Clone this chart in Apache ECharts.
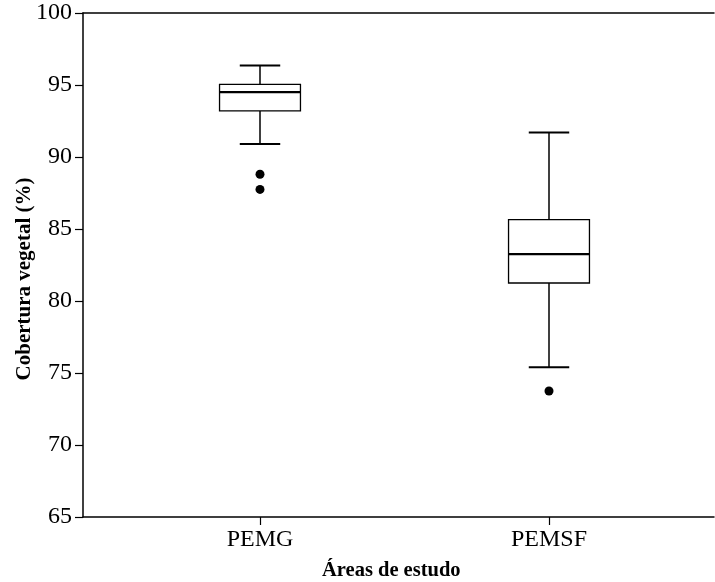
<!DOCTYPE html>
<html>
<head>
<meta charset="utf-8">
<script src="https://cdn.jsdelivr.net/npm/echarts@6/dist/echarts.min.js"></script>
<style>html,body{margin:0;padding:0;background:#fff}#c{width:715px;height:582px}</style>
</head>
<body>
<div id="c"></div>
<script>
const categories = ['PEMG', 'PEMSF'];
// [lower whisker, Q1, median, Q3, upper whisker]
const boxStats = [
  [90.9, 93.2, 94.5, 95.05, 96.35],
  [75.4, 81.25, 83.25, 85.65, 91.7]
];
const outliers = [
  ['PEMG', 88.8],
  ['PEMG', 87.75],
  ['PEMSF', 73.75]
];
const yTicks = { min: 65, max: 100, interval: 5 };
const yTitle = 'Cobertura vegetal (%)';
const xTitle = 'Áreas de estudo';

const FONT = 'Liberation Serif';
const chart = echarts.init(document.getElementById('c'), null, { renderer: 'canvas' });

const boxData = boxStats.map((s, i) => [i].concat(s));

chart.setOption({
  animation: false,
  backgroundColor: '#fff',
  grid: [
    { left: 83, right: 1, top: 13, bottom: 65 },
    { left: 115.5, right: 21.5, top: 13, bottom: 65 }
  ],
  xAxis: [
    { gridIndex: 0, type: 'value', min: 0, max: 1, position: 'bottom',
      axisLine: { show: true, lineStyle: { color: '#000', width: 1.5 } },
      axisTick: { show: false }, axisLabel: { show: false }, splitLine: { show: false } },
    { gridIndex: 0, type: 'value', min: 0, max: 1, position: 'top',
      axisLine: { show: true, lineStyle: { color: '#000', width: 1.5 } },
      axisTick: { show: false }, axisLabel: { show: false }, splitLine: { show: false } },
    { gridIndex: 1, type: 'category', data: categories, position: 'bottom',
      axisLine: { show: false },
      axisTick: { show: true, alignWithLabel: true, length: 8, lineStyle: { color: '#000', width: 1.2 } },
      axisLabel: { show: true, margin: 11, fontFamily: FONT, fontSize: 24, color: '#000' },
      splitLine: { show: false } }
  ],
  yAxis: [
    { gridIndex: 0, type: 'value', min: yTicks.min, max: yTicks.max, interval: yTicks.interval,
      axisLine: { show: true, lineStyle: { color: '#000', width: 1.5 } },
      axisTick: { show: true, length: 8, lineStyle: { color: '#000', width: 1.2 } },
      axisLabel: { margin: 11, fontFamily: FONT, fontSize: 24, color: '#000' },
      splitLine: { show: false } },
    { gridIndex: 1, type: 'value', min: yTicks.min, max: yTicks.max, interval: yTicks.interval, show: false }
  ],
  graphic: [
    { type: 'text', left: 322, top: 560,
      style: { text: xTitle, font: 'bold 20.5px "Liberation Serif"', fill: '#000' } },
    { type: 'text', x: 25, y: 279, rotation: Math.PI / 2,
      style: { text: yTitle, font: 'bold 21px "Liberation Serif"', fill: '#000',
               textAlign: 'center', textVerticalAlign: 'middle' } }
  ],
  series: [
    {
      type: 'custom', xAxisIndex: 2, yAxisIndex: 1,
      data: boxData,
      encode: { x: 0, y: [1, 2, 3, 4, 5] },
      renderItem: function (params, api) {
        const idx = api.value(0);
        const band = api.size([1, 0])[0];
        const bw = band * 0.28;
        const cw = bw / 2;
        const pLow = api.coord([idx, api.value(1)]);
        const pQ1 = api.coord([idx, api.value(2)]);
        const pMed = api.coord([idx, api.value(3)]);
        const pQ3 = api.coord([idx, api.value(4)]);
        const pHigh = api.coord([idx, api.value(5)]);
        const x = pQ1[0];
        const ls = { stroke: '#000', lineWidth: 1.5 };
        return {
          type: 'group',
          children: [
            { type: 'line', shape: { x1: x, y1: pHigh[1], x2: x, y2: pQ3[1] }, style: ls },
            { type: 'line', shape: { x1: x, y1: pQ1[1], x2: x, y2: pLow[1] }, style: ls },
            { type: 'line', shape: { x1: x - cw / 2, y1: pHigh[1], x2: x + cw / 2, y2: pHigh[1] }, style: { stroke: '#000', lineWidth: 2 } },
            { type: 'line', shape: { x1: x - cw / 2, y1: pLow[1], x2: x + cw / 2, y2: pLow[1] }, style: { stroke: '#000', lineWidth: 2 } },
            { type: 'rect', shape: { x: x - bw / 2, y: pQ3[1], width: bw, height: pQ1[1] - pQ3[1] },
              style: { fill: '#fff', stroke: '#000', lineWidth: 1.3 } },
            { type: 'line', shape: { x1: x - bw / 2, y1: pMed[1], x2: x + bw / 2, y2: pMed[1] }, style: { stroke: '#000', lineWidth: 2.2 } }
          ]
        };
      }
    },
    {
      type: 'scatter', xAxisIndex: 2, yAxisIndex: 1,
      data: outliers, symbol: 'circle', symbolSize: 9,
      itemStyle: { color: '#000', opacity: 1 }
    }
  ]
});
</script>
</body>
</html>
